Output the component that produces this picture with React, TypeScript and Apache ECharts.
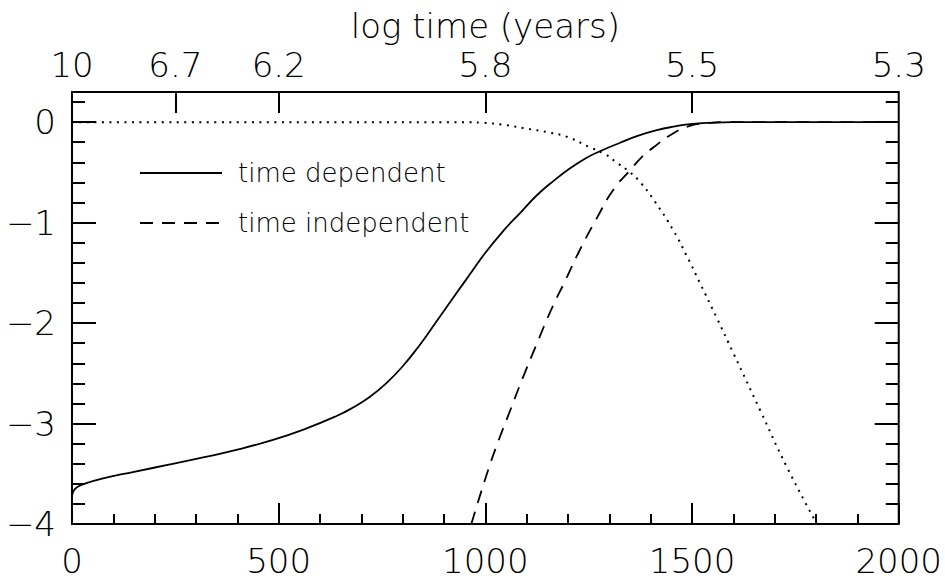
import React, { useEffect, useRef } from "react";
import * as echarts from "echarts";

// time dependent (solid)
const depX = [0, 4, 12, 30, 75, 150, 240, 320, 400, 480, 560, 640, 680, 720, 760, 800, 840, 880, 920, 960, 1000, 1044, 1085, 1124, 1165, 1205, 1245, 1277, 1326, 1370, 1415, 1455, 1495, 1550, 1600, 2000];
const depY = [-3.72, -3.67, -3.635, -3.6, -3.545, -3.48, -3.405, -3.335, -3.26, -3.17, -3.06, -2.925, -2.84, -2.735, -2.6, -2.43, -2.225, -1.995, -1.76, -1.53, -1.3, -1.08, -0.9, -0.73, -0.585, -0.46, -0.355, -0.29, -0.205, -0.135, -0.08, -0.045, -0.02, -0.005, 0, 0];

// time independent (dashed)
const indX = [966, 1003, 1030, 1060, 1090, 1124, 1160, 1193, 1230, 1269, 1310, 1350, 1380, 1407, 1447, 1495, 1536, 1580, 2000];
const indY = [-4.0, -3.51, -3.19, -2.87, -2.55, -2.21, -1.86, -1.58, -1.26, -0.96, -0.67, -0.48, -0.34, -0.25, -0.13, -0.037, -0.012, 0, 0];

// dotted curve
const dotX = [0, 950, 990, 1050, 1100, 1150, 1200, 1250, 1290, 1320, 1350, 1375, 1410, 1455, 1487, 1519, 1560, 1600, 1665, 1729, 1802];
const dotY = [0, 0, -0.005, -0.03, -0.065, -0.1, -0.15, -0.245, -0.32, -0.41, -0.5, -0.6, -0.79, -1.08, -1.33, -1.6, -1.95, -2.3, -2.87, -3.43, -4.0];

// top axis (log time)
const topTickValues = [250, 500, 1000, 1500];
const topLabelValues = [0, 250, 500, 1000, 1500, 2000];
const topLabels = ["10", "6.7", "6.2", "5.8", "5.5", "5.3"];

const seriesNames = ["time dependent", "time independent"];

const FONT = '"DejaVu Sans", "Liberation Sans", sans-serif';
const zip = (xs: number[], ys: number[]) => xs.map((x, i) => [x, ys[i]]);

export default function App() {
  const ref = useRef<HTMLDivElement>(null);
  useEffect(() => {
    if (!ref.current) return;
    const chart = echarts.init(ref.current, null, { renderer: "svg" });
    const tickLine = { color: "#000", width: 2 };
    const labelBase = { color: "#000", fontFamily: FONT, fontSize: 34, fontWeight: 200 };
    const yFmt = (v: number) => {
      if (Math.abs(v - Math.round(v)) > 1e-6) return "";
      const r = Math.round(v);
      return r < 0 ? "\u2212" + Math.abs(r) : String(r);
    };
    const noLine = { show: false, onZero: false };
    const yCommon = { type: "value", min: -4, max: 0.3, splitLine: { show: false }, axisLine: noLine };
    const option = {
      animation: false,
      backgroundColor: "#fff",
      grid: { left: 72, right: 46, top: 92, bottom: 56, show: true, borderColor: "#000", borderWidth: 2, backgroundColor: "transparent" },
      legend: {
        orient: "vertical",
        left: 134,
        top: 153,
        itemWidth: 82,
        itemHeight: 14,
        itemGap: 20,
        data: seriesNames,
        itemStyle: { opacity: 0 },
        textStyle: { color: "#000", fontFamily: FONT, fontSize: 26, fontWeight: 200, padding: [0, 0, 0, 11], lineHeight: 30 },
      },
      xAxis: [
        {
          type: "value", position: "bottom", min: 0, max: 2000, interval: 500,
          axisLine: noLine, splitLine: { show: false },
          axisTick: { show: true, inside: true, length: 21, lineStyle: tickLine },
          minorTick: { show: true, splitNumber: 5, length: 10, lineStyle: tickLine },
          axisLabel: { ...labelBase, margin: 20, formatter: (v: number) => String(v) },
        },
        {
          type: "value", position: "top", min: 0, max: 2000,
          name: "log time (years)", nameLocation: "middle", nameGap: 48,
          nameTextStyle: { ...labelBase },
          axisLine: noLine, splitLine: { show: false },
          axisTick: { show: true, inside: true, length: 21, customValues: topTickValues, lineStyle: tickLine },
          minorTick: { show: false },
          axisLabel: {
            ...labelBase, margin: 10, customValues: topLabelValues,
            formatter: (v: number) => { const i = topLabelValues.indexOf(v); return i >= 0 ? topLabels[i] : ""; },
          },
        },
      ],
      yAxis: [
        { ...yCommon, position: "left", interval: 1,
          axisTick: { show: true, inside: true, length: 24, lineStyle: tickLine },
          axisLabel: { ...labelBase, margin: 16, formatter: yFmt } },
        { ...yCommon, position: "left", interval: 0.2,
          axisTick: { show: true, inside: true, length: 13, lineStyle: tickLine },
          axisLabel: { show: false } },
        { ...yCommon, position: "right", interval: 1,
          axisTick: { show: true, inside: true, length: 24, lineStyle: tickLine },
          axisLabel: { show: false } },
        { ...yCommon, position: "right", interval: 0.2,
          axisTick: { show: true, inside: true, length: 13, lineStyle: tickLine },
          axisLabel: { show: false } },
      ],
      series: [
        {
          name: seriesNames[0], type: "line", xAxisIndex: 0, yAxisIndex: 0,
          data: zip(depX, depY), symbol: "none", showSymbol: false,
          smooth: 0.5,
          lineStyle: { color: "#000", width: 1.8, type: "solid" }, itemStyle: { color: "#000" },
        },
        {
          name: seriesNames[1], type: "line", xAxisIndex: 0, yAxisIndex: 0,
          data: zip(indX, indY), symbol: "none", showSymbol: false,
          smooth: 0.5,
          lineStyle: { color: "#000", width: 1.8, type: [13, 9] }, itemStyle: { color: "#000" },
        },
        {
          name: "dotted", type: "line", xAxisIndex: 0, yAxisIndex: 0,
          data: zip(dotX, dotY), symbol: "none", showSymbol: false,
          smooth: 0.5,
          lineStyle: { color: "#000", width: 2, type: [2, 5.5] }, itemStyle: { color: "#000" },
        },
      ],
    };
    chart.setOption(option as any);
    return () => chart.dispose();
  }, []);
  return <div ref={ref} style={{ position: "absolute", left: 0, top: 0, width: 945, height: 580 }} />;
}
